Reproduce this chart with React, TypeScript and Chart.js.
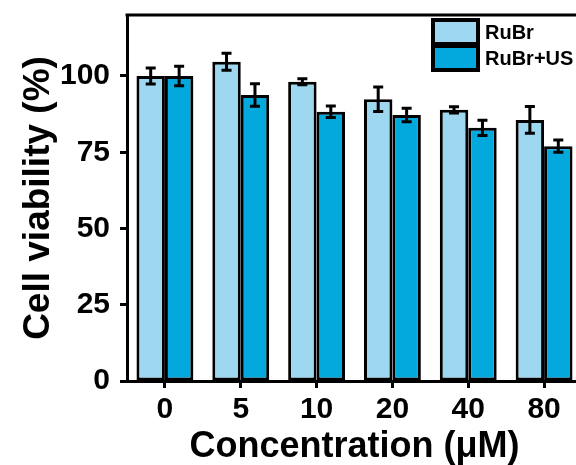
import React, { useEffect, useRef } from "react";
import { Chart, registerables } from "chart.js";

Chart.register(...registerables);

const categories = ["0", "5", "10", "20", "40", "80"];
const rubr = [100, 104.7, 98.1, 92.4, 88.9, 85.6];
const rubrErr = [2.6, 2.8, 1.0, 4.0, 1.0, 4.4];
const rubrUS = [100, 93.8, 88.3, 87.2, 83.0, 77.0];
const rubrUSErr = [3.2, 3.7, 1.9, 2.2, 2.5, 2.0];
const yTicks = [0, 25, 50, 75, 100];
const seriesLabels = ["RuBr", "RuBr+US"];
const colors = ["#9dd7f0", "#03a8dd"];

const FONT = "'Liberation Sans', Arial, sans-serif";

const errorBarPlugin = {
  id: "errorBars",
  afterDatasetsDraw(chart: any) {
    const ctx = chart.ctx;
    const y = chart.scales.y;
    const errs = [rubrErr, rubrUSErr];
    ctx.save();
    ctx.strokeStyle = "#000";
    ctx.lineWidth = 3;
    chart.data.datasets.forEach((ds: any, di: number) => {
      const meta = chart.getDatasetMeta(di);
      meta.data.forEach((bar: any, i: number) => {
        const v = ds.data[i];
        const e = errs[di][i];
        const yt = y.getPixelForValue(v + e);
        const yb = y.getPixelForValue(v - e);
        const x = bar.x;
        ctx.beginPath();
        ctx.moveTo(x, yt);
        ctx.lineTo(x, yb);
        ctx.moveTo(x - 5, yt);
        ctx.lineTo(x + 5, yt);
        ctx.moveTo(x - 5, yb);
        ctx.lineTo(x + 5, yb);
        ctx.stroke();
      });
    });
    ctx.restore();
  },
};

const frameLegendPlugin = {
  id: "frameLegend",
  afterDraw(chart: any) {
    const ctx = chart.ctx;
    const a = chart.chartArea;
    ctx.save();
    // top frame line
    ctx.strokeStyle = "#000";
    ctx.lineWidth = 3;
    ctx.beginPath();
    ctx.moveTo(a.left - 1.5, a.top);
    ctx.lineTo(a.right + 2, a.top);
    ctx.stroke();
    // legend
    const bx = 433;
    const bw = 45;
    const bh = 24;
    const by0 = 20;
    chart.data.datasets.forEach((ds: any, i: number) => {
      const by = by0 + i * (bh + 2);
      ctx.fillStyle = ds.backgroundColor;
      ctx.fillRect(bx, by, bw, bh);
      ctx.lineWidth = 4;
      ctx.strokeStyle = "#000";
      ctx.strokeRect(bx, by, bw, bh);
      ctx.fillStyle = "#000";
      ctx.font = `bold 20px ${FONT}`;
      ctx.textBaseline = "middle";
      ctx.textAlign = "left";
      ctx.fillText(ds.label, bx + bw + 7, by + bh / 2 + 1);
    });
    ctx.restore();
  },
};

export default function App() {
  const ref = useRef<HTMLCanvasElement>(null);
  useEffect(() => {
    if (!ref.current) return;
    const chart = new Chart(ref.current, {
      type: "bar",
      data: {
        labels: categories,
        datasets: [
          {
            label: seriesLabels[0],
            data: rubr,
            backgroundColor: colors[0],
            borderColor: "#000",
            borderWidth: 3,
            borderSkipped: false,
          },
          {
            label: seriesLabels[1],
            data: rubrUS,
            backgroundColor: colors[1],
            borderColor: "#000",
            borderWidth: 3,
            borderSkipped: false,
          },
        ],
      },
      options: {
        responsive: false,
        animation: false,
        layout: { padding: { top: 15, right: 38, left: 0, bottom: 0 } },
        datasets: { bar: { categoryPercentage: 0.75, barPercentage: 1 } },
        plugins: { legend: { display: false }, tooltip: { enabled: false } },
        scales: {
          x: {
            grid: {
              offset: false,
              drawOnChartArea: false,
              drawTicks: true,
              tickLength: 7,
              tickWidth: 3,
              tickColor: "#000",
            },
            border: { display: true, color: "#000", width: 3 },
            ticks: {
              color: "#000",
              padding: 4,
              font: { family: FONT, size: 30, weight: "bold" },
              maxRotation: 0,
            },
            title: {
              display: true,
              text: "Concentration (μM)",
              color: "#000",
              font: { family: FONT, size: 36, weight: "bold", lineHeight: 1 },
              padding: { top: 0, bottom: 0 },
            },
            afterFit(scale: any) {
              scale.height = 84;
              scale.paddingLeft = 0;
              scale.paddingRight = 0;
            },
          },
          y: {
            min: 0,
            max: 120,
            afterBuildTicks(scale: any) {
              scale.ticks = yTicks.map((v) => ({ value: v }));
            },
            grid: {
              drawOnChartArea: false,
              drawTicks: true,
              tickLength: 7,
              tickWidth: 3,
              tickColor: "#000",
            },
            border: { display: true, color: "#000", width: 3 },
            ticks: {
              color: "#000",
              padding: 10,
              font: { family: FONT, size: 30, weight: "bold" },
            },
            title: {
              display: true,
              text: "Cell viability (%)",
              color: "#000",
              font: { family: FONT, size: 37, weight: "bold", lineHeight: 1 },
              padding: { top: 20, bottom: 0 },
            },
            afterFit(scale: any) {
              scale.width = 127;
              scale.paddingTop = 0;
              scale.paddingBottom = 0;
            },
          },
        },
      },
      plugins: [errorBarPlugin, frameLegendPlugin],
    });
    return () => chart.destroy();
  }, []);
  return (
    <div style={{ position: "absolute", left: 0, top: 0, width: 576, height: 465, overflow: "hidden", background: "#fff" }}>
      <canvas ref={ref} width={620} height={465} style={{ display: "block" }} />
    </div>
  );
}
